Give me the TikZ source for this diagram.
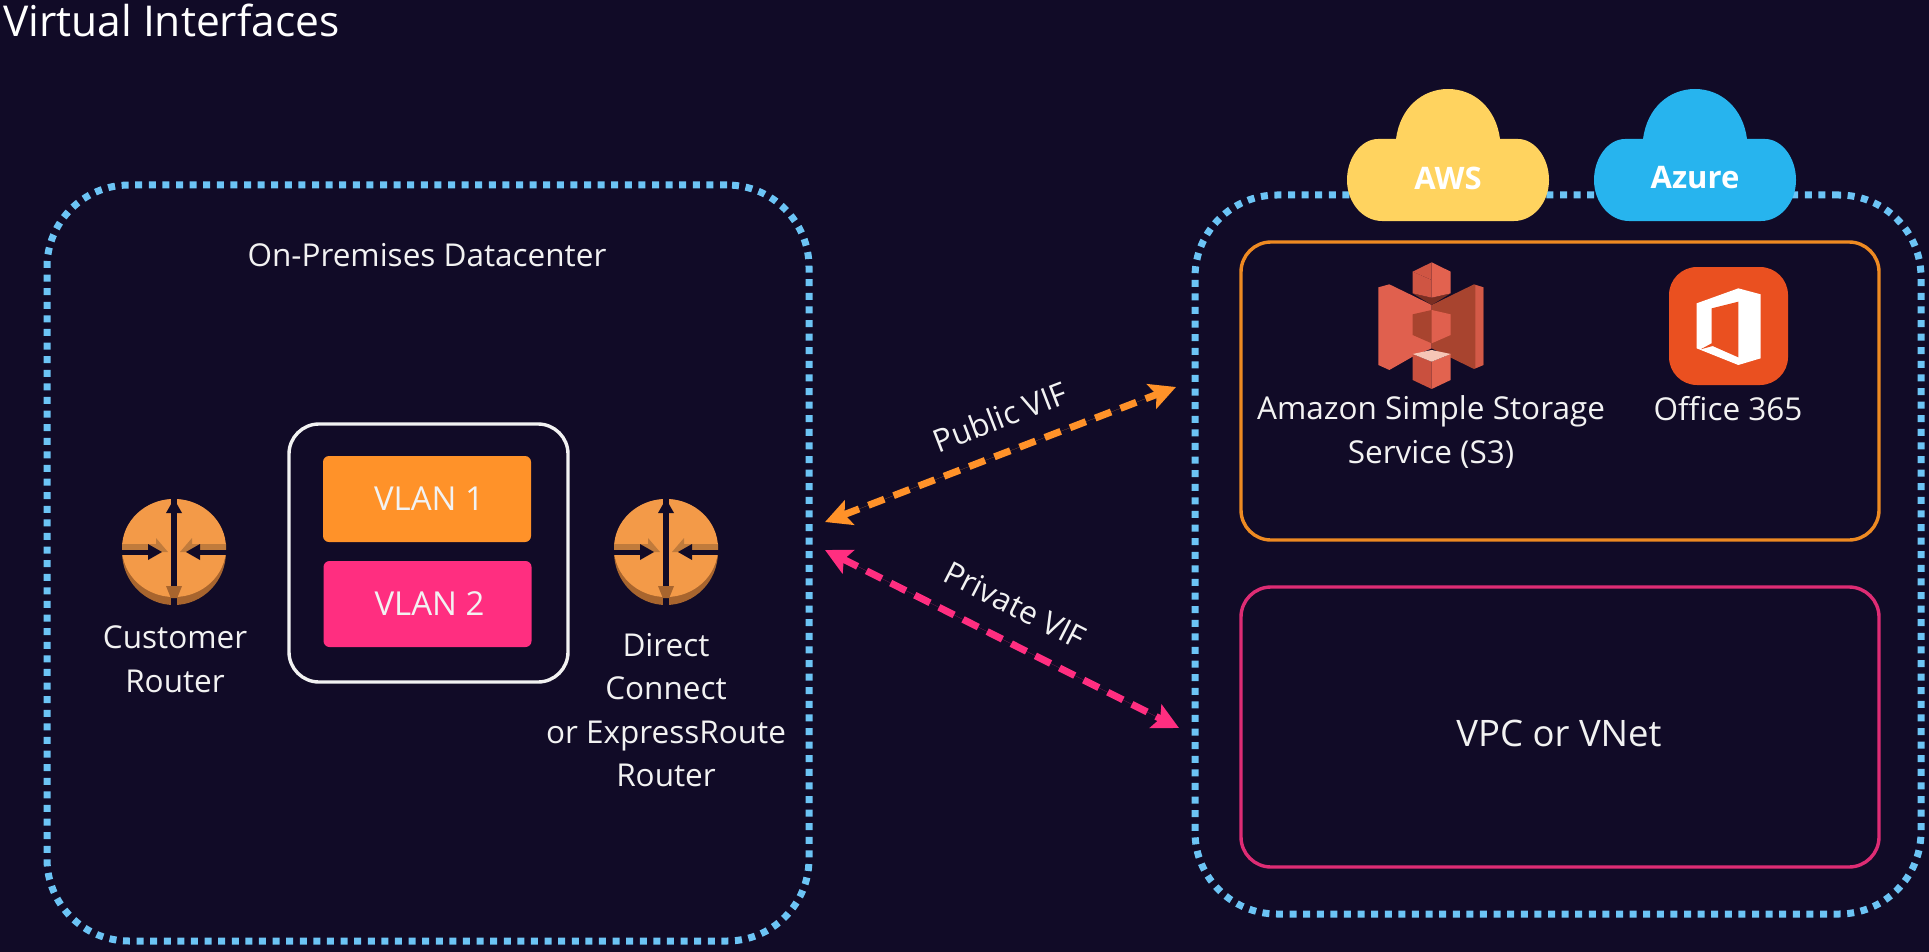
\documentclass[tikz,border=0pt]{standalone}
\usepackage{fontspec}
\setmainfont{Open Sans}
\usetikzlibrary{arrows.meta}
\definecolor{bgc}{HTML}{110B27}
\definecolor{dotc}{HTML}{6CC4F5}
\definecolor{orng}{HTML}{FF9229}
\definecolor{pnk}{HTML}{FF2E80}
\definecolor{orngline}{HTML}{EE8A22}
\definecolor{pnkline}{HTML}{DE2C74}
\definecolor{ylw}{HTML}{FFD35F}
\definecolor{cyn}{HTML}{27B4EE}
\definecolor{off}{HTML}{EA5020}
\definecolor{txt}{HTML}{F2F2F2}
\definecolor{rfront}{HTML}{F39A48}
\definecolor{rrim}{HTML}{A8652E}
\definecolor{rshade}{HTML}{C07B3C}
\definecolor{sLight}{HTML}{E0604E}
\definecolor{sDark}{HTML}{A8442F}
\definecolor{sEdge}{HTML}{D45A48}
\definecolor{sUnder}{HTML}{7A2E22}
\definecolor{sTopL}{HTML}{CF5543}
\definecolor{sTopR}{HTML}{E2624F}
\definecolor{sBotL}{HTML}{C9503E}
\definecolor{sBotR}{HTML}{E2634F}
\definecolor{sPale}{HTML}{F6C6B6}
\tikzset{
  x=1pt,y=-1pt,
  lbl/.style={text=txt,font=\fontsize{31.5}{43.5}\selectfont,align=center,inner sep=0pt,outer sep=0pt},
  dotbox/.style={draw=dotc,line width=7pt,dash pattern=on 7pt off 6.6pt,rounded corners=82pt,inner sep=0pt,outer sep=0pt},
  linebox/.style={line width=3.4pt,rounded corners=30pt,inner sep=0pt,outer sep=0pt},
  vlan/.style={rounded corners=6pt,inner sep=0pt,outer sep=0pt,minimum width=208pt,minimum height=86pt,text=txt,font=\fontsize{33}{38}\selectfont},
  vif/.style={line width=7pt,dash pattern=on 17pt off 10pt,{Stealth[length=26pt,width=26pt,inset=5pt]}-{Stealth[length=26pt,width=26pt,inset=5pt]}},
  cloudtxt/.style={text=white,font=\fontsize{31}{36}\selectfont\bfseries,inner sep=0pt},
  s3/.style={x=0.3333pt,y=-0.3333pt},
  pics/router/.style={code={
    \fill[rrim] (0,0) ellipse [x radius=52pt,y radius=53pt];
    \fill[rfront] (0,-4) ellipse [x radius=52pt,y radius=49pt];
    \fill[rshade] (-52,-8) -- (-18,-8) -- (-18,-14) -- (-6,0) -- (-52,0) -- cycle;
    \fill[rshade] (52,-8) -- (18,-8) -- (18,-14) -- (6,0) -- (52,0) -- cycle;
    \fill[bgc] (-53,-2.5) rectangle (-26,2.5);
    \fill[bgc] (-26,-8) -- (-12,0) -- (-26,8) -- cycle;
    \fill[bgc] (53,-2.5) rectangle (26,2.5);
    \fill[bgc] (26,-8) -- (12,0) -- (26,8) -- cycle;
    \fill[bgc] (-3.2,-55) rectangle (3.2,55);
    \fill[bgc] (0,-53) -- (-8,-39) -- (8,-39) -- cycle;
    \fill[rrim] (-8,34) -- (8,34) -- (3.2,46) -- (-3.2,46) -- cycle;
  }},
  pics/cloudshape/.style={code={
    \fill[#1] (-52,139) .. controls (-48,108) and (-26,89) .. (0,89)
      .. controls (26,89) and (48,108) .. (52,139) -- (70,139)
      .. controls (87,139) and (101,158) .. (101,180)
      .. controls (101,203) and (85,221) .. (66,221) -- (-66,221)
      .. controls (-85,221) and (-101,203) .. (-101,180)
      .. controls (-101,158) and (-87,139) .. (-70,139) -- cycle;
  }}
}
\begin{document}
\begin{tikzpicture}
\useasboundingbox (0,0) rectangle (1929,952);
\fill[bgc] (0,0) rectangle (1929,952);

\node[text=white,font=\fontsize{42.5}{50}\selectfont,anchor=base west,inner sep=0pt] (title) at (3,37) {Virtual Interfaces};

% dotted regions
\node[dotbox,minimum width=762pt,minimum height=756pt] (onprem) at (428,563) {};
\node[dotbox,minimum width=726pt,minimum height=719pt] (cloud) at (1558,554.5) {};

% clouds
\pic at (1448,0) {cloudshape=ylw};
\pic at (1695,0) {cloudshape=cyn};
\node[cloudtxt] (aws) at (1448,178) {AWS};
\node[cloudtxt] (azure) at (1695,178) {Azure};

\node[lbl,anchor=base] (dc) at (427,266) {On-Premises Datacenter};

% VLAN group
\node[draw=txt,linebox,minimum width=279pt,minimum height=258pt] (group) at (428.5,553) {};
\node[vlan,fill=orng] (v1) at (427,499) {\hspace*{4pt}VLAN 1};
\node[vlan,fill=pnk] (v2) at (427.5,604) {\hspace*{4pt}VLAN 2};

% routers
\pic at (174,552) {router};
\pic at (666,552) {router};
\node[lbl] (cr) at (175,659) {Customer\\Router};
\node[lbl] (dx) at (666,710) {Direct\\Connect\\or ExpressRoute\\Router};

% provider boxes
\node[draw=orngline,linebox,minimum width=638pt,minimum height=298pt] (pub) at (1560,391) {};
\node[draw=pnkline,linebox,minimum width=638pt,minimum height=280pt] (prv) at (1560,727) {};
\node[lbl,font=\fontsize{36.5}{44}\selectfont] (vpc) at (1559,733) {VPC or VNet};

% S3 icon
\begin{scope}[shift={(1370,255)},s3]
  \fill[sLight] (25,97) -- (58,88) -- (128,122) -- (185,150) -- (185,280) -- (128,305) -- (58,345) -- (25,330) -- cycle;
  \fill[sDark] (185,150) -- (312,88) -- (340,97) -- (340,330) -- (312,342) -- (185,280) -- cycle;
  \fill[sEdge] (316,90) -- (340,97) -- (340,330) -- (316,340) -- cycle;
  \fill[sUnder] (128,115) -- (185,128) -- (242,115) -- (185,150) -- cycle;
  \fill[sTopL] (128,50) -- (185,75) -- (185,128) -- (128,115) -- cycle;
  \fill[sTopR] (185,22) -- (242,50) -- (242,115) -- (185,128) -- cycle;
  \fill[sTopL] (128,50) -- (185,22) -- (185,75) -- cycle;
  \fill[sDark] (128,178) -- (185,165) -- (185,265) -- (128,240) -- cycle;
  \fill[sLight] (185,165) -- (242,178) -- (242,240) -- (185,265) -- cycle;
  \fill[sBotL] (128,297) -- (185,320) -- (185,402) -- (128,375) -- cycle;
  \fill[sBotR] (185,320) -- (242,297) -- (242,375) -- (185,402) -- cycle;
  \fill[sPale] (128,297) -- (185,285) -- (242,297) -- (185,320) -- cycle;
\end{scope}
\node[lbl] (s3t) at (1431,432) {Amazon Simple Storage\\Service (S3)};

% Office icon
\node[fill=off,rounded corners=28pt,minimum width=119pt,minimum height=118pt,inner sep=0pt,outer sep=0pt] (o365) at (1728.5,326) {};
\begin{scope}[shift={(1660,260)},s3]
  \fill[white] (110,130) -- (235,85) -- (302,103) -- (302,295) -- (235,315) -- (110,265) -- cycle;
  \fill[off] (155,145) -- (235,125) -- (235,292) -- (158,258) -- (122,268) -- (155,250) -- cycle;
\end{scope}
\node[lbl,anchor=base] (o365t) at (1728,420) {Office 365};

% VIF connectors
\coordinate (pubL) at (825,522);
\coordinate (pubR) at (1176,387);
\coordinate (prvL) at (825,550);
\coordinate (prvR) at (1179,728);
\draw[vif,draw=orng,fill=orng] (pubL) -- (pubR);
\draw[vif,draw=pnk,fill=pnk] (prvL) -- (prvR);
\node[lbl,rotate=21] (pubt) at (1000,417) {Public VIF};
\node[lbl,rotate=-27] (prvt) at (1015,605) {Private VIF};
\end{tikzpicture}
\end{document}
